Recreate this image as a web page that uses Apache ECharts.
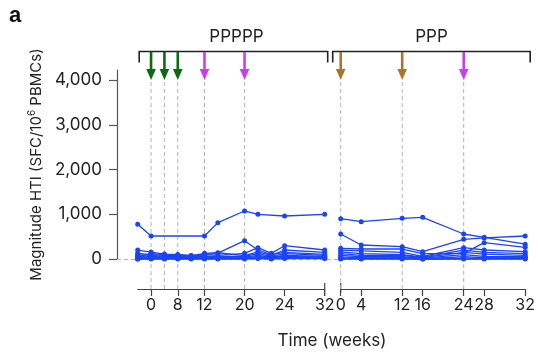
<!DOCTYPE html>
<html><head><meta charset="utf-8">
<script src="https://cdn.jsdelivr.net/npm/echarts@6/dist/echarts.min.js"></script>
<style>html,body{margin:0;padding:0;background:#fff}#c{width:538px;height:352px}</style>
</head><body><div id="c"></div>
<script>
// ---------- data ----------
const p1Weeks = ['-4','0','4','8','10','12','14','16','20','21','22','24','26','28','32'];
const p1TickLabels = ['0','8','12','20','24','32'];
const p2Weeks = ['0','4','8','12','16','20','24','28','30','32'];
const p2TickLabels = ['0','4','12','16','24','28','32'];
const yTicks = [0, 1000, 2000, 3000, 4000];

const p1DoseWeeks = ['0','4','8','12','20'];
const p1DoseKinds = ['green','green','green','purple','purple'];
const p2DoseWeeks = ['0','12','24'];
const p2DoseKinds = ['brown','brown','purple'];

const group1Name = 'PPPPP';
const group2Name = 'PPP';

// PPPPP participants (one value per p1Weeks slot, null = not measured)
const p1A = [775, 514, null, null, null, 514, 812, null, 1073, 999, null, 961, null, null, 999];
const p1B = [127, 100, 80, 80, 60, 90, 130, null, 409, 201, 100, 150, null, null, 105];
const p1C = [200, 156, 110, 100, 80, 100, 80, null, 127, 253, 127, 297, null, null, 201];
const p1D = [52, 120, 100, 90, 70, 127, 140, null, 74, 160, 80, 201, null, null, 150];
const p1E = [90, 80, 60, 60, 40, 60, 60, null, 60, 120, 60, 120, null, null, 80];
const p1F = [30, 60, 40, 50, 30, 40, 40, null, 40, 80, 40, 80, null, null, 60];
const p1G = [15, 30, 20, 30, 20, 20, 30, null, 30, 50, 30, 50, null, null, 40];
const p1H = [0, 10, 10, 10, 10, 10, 10, null, 10, 20, 10, 30, null, null, 20];
const p1I = [0, 0, 0, 0, 0, 0, 0, null, 0, 10, 0, 10, null, null, 10];
const p1J = [60, 40, null, 40, null, 60, 20, null, 20, 40, null, 60, null, null, 30];

// PPP participants (one value per p2Weeks slot)
const p2A = [901, 834, null, 909, 931, null, 559, 485, null, 330];
const p2B = [559, 313, null, 276, 164, null, 440, 470, null, 514];
const p2C = [238, 223, null, 223, 118, null, 127, 365, null, 261];
const p2D = [200, 180, null, 150, 60, null, 253, 201, null, 163];
const p2E = [160, 120, null, 100, 40, null, 200, 150, null, 120];
const p2F = [120, 80, null, 80, 30, null, 150, 110, null, 80];
const p2G = [80, 50, null, 50, 20, null, 100, 60, null, 50];
const p2H = [40, 30, null, 30, 10, null, 50, 30, null, 30];
const p2I = [10, 10, null, 10, 0, null, 10, 10, null, 10];
const p2J = [0, 0, null, 0, 0, null, 0, 0, null, 0];

const p1All = [p1A, p1B, p1C, p1D, p1E, p1F, p1G, p1H, p1I, p1J];
const p2All = [p2A, p2B, p2C, p2D, p2E, p2F, p2G, p2H, p2I, p2J];

// ---------- layout / style ----------
const FONT = 'Inter';
const BLUE = '#1a44f6';
const AXIS = '#444';
const DOSE_COLORS = { green: '#0d6a12', purple: '#c93ef0', brown: '#a8782a' };
const ZERO_PX = 259, PX_PER_UNIT = 44.75 / 1000;
const PANEL_TOP = 40, AXIS_PX = 289;
const Y_TOP_PX = 70;
const G1 = { left: 137.7, width: 187 };
const G2 = { left: 340.7, width: 186 };
const panelMax = (ZERO_PX - PANEL_TOP) / PX_PER_UNIT;
const panelMin = -(AXIS_PX - ZERO_PX) / PX_PER_UNIT;
const yMax = (ZERO_PX - Y_TOP_PX) / PX_PER_UNIT;

const chart = echarts.init(document.getElementById('c'), null, { renderer: 'canvas' });

function catAxis(gridIndex, weeks, labels) {
  const show = (i, v) => labels.indexOf(v) >= 0;
  return {
    type: 'category', gridIndex, data: weeks, boundaryGap: false, position: 'bottom',
    axisLine: { show: true, onZero: false, lineStyle: { color: AXIS, width: 1.2 } },
    axisTick: { show: true, length: 7, lineStyle: { color: AXIS, width: 1.2 }, interval: show },
    axisLabel: { interval: show, color: '#222', fontFamily: FONT, fontSize: 16, margin: 8 },
    splitLine: { show: false }
  };
}
function hiddenY(gridIndex) {
  return { type: 'value', gridIndex, min: panelMin, max: panelMax, show: false, splitLine: { show: false } };
}
function lineSeries(data, idx) {
  return {
    type: 'line', xAxisIndex: idx, yAxisIndex: idx, data, connectNulls: true,
    symbol: 'circle', symbolSize: 5, showSymbol: true,
    lineStyle: { color: BLUE, width: 1.3 }, itemStyle: { color: BLUE },
    z: 5, silent: true, animation: false
  };
}
function doseSeries(idx, weeks, kinds) {
  return {
    type: 'custom', xAxisIndex: idx, yAxisIndex: idx, clip: false, silent: true, z: 3,
    data: weeks.map(w => [w, 0]),
    renderItem(params, api) {
      const x = api.coord([api.value(0), 0])[0];
      const cs = params.coordSys;
      const top = cs.y, bottom = cs.y + cs.height;
      const col = DOSE_COLORS[kinds[params.dataIndex]];
      return {
        type: 'group', children: [
          { type: 'line', shape: { x1: x, y1: top + 42, x2: x, y2: bottom },
            style: { stroke: '#b4b4b4', lineWidth: 1, lineDash: [4, 3] } },
          { type: 'rect', shape: { x: x - 1.3, y: top + 12, width: 2.6, height: 19 }, style: { fill: col } },
          { type: 'polygon', shape: { points: [[x - 4.8, top + 29], [x + 4.8, top + 29], [x, top + 40]] }, style: { fill: col } }
        ]
      };
    }
  };
}

const series = [
  { type: 'line', xAxisIndex: 0, yAxisIndex: 0, data: [], silent: true,
    markLine: { silent: true, symbol: ['none', 'none'], label: { show: false },
      lineStyle: { color: '#b4b4b4', type: [4, 3], width: 1 }, data: [{ yAxis: yTicks[0] }] }, z: 1 },
  doseSeries(1, p1DoseWeeks, p1DoseKinds),
  doseSeries(2, p2DoseWeeks, p2DoseKinds)
];
p1All.forEach(d => series.push(lineSeries(d, 1)));
p2All.forEach(d => series.push(lineSeries(d, 2)));

const bracketY = 51.5, bracketEnd = 62.5;
const b1 = [G1.left + 1.5, G1.left + G1.width + 3];
const b2 = [G2.left - 8, G2.left + G2.width + 3.5];

chart.setOption({
  animation: false,
  backgroundColor: '#fff',
  textStyle: { fontFamily: FONT },
  title: { text: 'a', left: 4, top: 0, textStyle: { fontFamily: 'Liberation Sans', fontWeight: 'bold', fontSize: 22, color: '#111' } },
  grid: [
    { left: 117, width: 410, top: Y_TOP_PX, height: ZERO_PX - Y_TOP_PX },
    { left: G1.left, width: G1.width, top: PANEL_TOP, height: AXIS_PX - PANEL_TOP },
    { left: G2.left, width: G2.width, top: PANEL_TOP, height: AXIS_PX - PANEL_TOP }
  ],
  xAxis: [
    { type: 'value', gridIndex: 0, min: 0, max: 1, show: false },
    catAxis(1, p1Weeks, p1TickLabels),
    catAxis(2, p2Weeks, p2TickLabels)
  ],
  yAxis: [
    { type: 'value', gridIndex: 0, min: 0, max: yMax, interval: 1000,
      axisLine: { show: true, lineStyle: { color: '#555', width: 1.2 } },
      axisTick: { show: true, length: 8, lineStyle: { color: '#555', width: 1.2 } },
      axisLabel: { color: '#222', fontFamily: FONT, fontSize: 17, margin: 15, showMaxLabel: false,
        formatter: v => yTicks.indexOf(v) >= 0 ? v.toLocaleString('en-US') : '' },
      splitLine: { show: false },
      name: '{n|Magnitude HTI (SFC/10}{s|6}{n| PBMCs)}', nameLocation: 'middle', nameGap: 63, nameRotate: 90,
      nameTextStyle: { rich: {
        n: { fontFamily: FONT, fontSize: 15, color: '#222', lineHeight: 20 },
        s: { fontFamily: FONT, fontSize: 10, color: '#222', verticalAlign: 'top', lineHeight: 11 } } }
    },
    hiddenY(1), hiddenY(2)
  ],
  series,
  graphic: [
    { type: 'polyline', silent: true, shape: { points: [[b1[0], bracketEnd], [b1[0], bracketY], [b1[1], bracketY], [b1[1], bracketEnd]] },
      style: { stroke: '#222', lineWidth: 1.6, fill: null } },
    { type: 'polyline', silent: true, shape: { points: [[b2[0], bracketEnd], [b2[0], bracketY], [b2[1], bracketY], [b2[1], bracketEnd]] },
      style: { stroke: '#222', lineWidth: 1.6, fill: null } },
    { type: 'text', silent: true, x: (b1[0] + b1[1]) / 2 + 3, y: 37,
      style: { text: group1Name, fontFamily: FONT, fontSize: 17, fill: '#222', align: 'center', verticalAlign: 'middle' } },
    { type: 'text', silent: true, x: (b2[0] + b2[1]) / 2, y: 37,
      style: { text: group2Name, fontFamily: FONT, fontSize: 17, fill: '#222', align: 'center', verticalAlign: 'middle' } },
    { type: 'line', silent: true, shape: { x1: G1.left + G1.width, y1: AXIS_PX - 6, x2: G1.left + G1.width, y2: AXIS_PX + 7 },
      style: { stroke: AXIS, lineWidth: 1.2 } },
    { type: 'line', silent: true, shape: { x1: G2.left, y1: AXIS_PX - 6, x2: G2.left, y2: AXIS_PX + 4 },
      style: { stroke: AXIS, lineWidth: 1.2 } },
    { type: 'text', silent: true, x: 332, y: 341,
      style: { text: 'Time (weeks)', fontFamily: FONT, fontSize: 17, fill: '#222', align: 'center', verticalAlign: 'middle' } }
  ]
});
</script></body></html>
